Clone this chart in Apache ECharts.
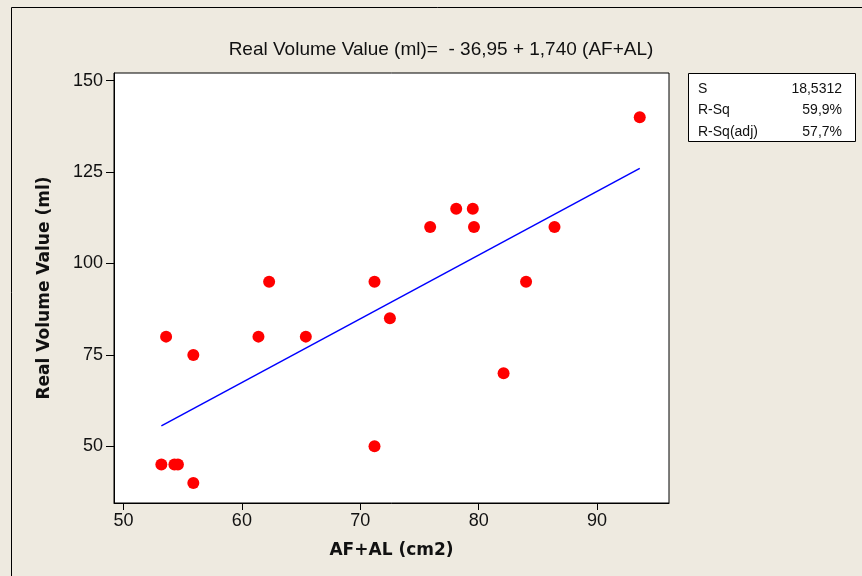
<!DOCTYPE html>
<html>
<head>
<meta charset="utf-8">
<script src="https://cdn.jsdelivr.net/npm/echarts@6/dist/echarts.min.js"></script>
<style>
  html, body { margin: 0; padding: 0; background: #EEEAE0; }
  #main { width: 862px; height: 576px; }
</style>
</head>
<body>
<div id="main"></div>
<script>
// AF+AL (cm2) vs Real Volume Value (ml)
var areaX = [93.6, 78.1, 79.5, 75.9, 79.6, 86.4, 62.3, 71.2, 84.0, 72.5,
             53.6, 61.4, 65.4, 55.9, 82.1, 71.2, 53.2, 54.3, 54.6, 55.9];
var volumeY = [140, 115, 115, 110, 110, 110, 95, 95, 95, 85,
               80, 80, 80, 75, 70, 50, 45, 45, 45, 40];
// fitted line ends
var fitX = [53.2, 93.6];
var fitY = [55.6, 126.0];
var xTicks = [50, 60, 70, 80, 90];
var yTicks = [50, 75, 100, 125, 150];
var statNames = ['S', 'R-Sq', 'R-Sq(adj)'];
var statValues = ['18,5312', '59,9%', '57,7%'];

var chartDom = document.getElementById('main');
var myChart = echarts.init(chartDom);
var font = 'Liberation Sans, Arial, sans-serif';

var statText = [];
statNames.forEach(function (n, i) {
  statText.push({
    type: 'text', left: 698, top: 82 + i * 21.5,
    style: { text: n, font: '14px ' + font, fill: '#111' }
  });
  statText.push({
    type: 'text', right: 20, top: 82 + i * 21.5,
    style: { text: statValues[i], font: '14px ' + font, fill: '#111', align: 'right' }
  });
});

var option = {
  backgroundColor: '#EEEAE0',
  animation: false,
  title: {
    text: 'Real Volume Value (ml)=  - 36,95 + 1,740 (AF+AL)',
    left: 436, top: 35, textAlign: 'center',
    textStyle: { fontFamily: font, fontSize: 19, fontWeight: 'normal', color: '#111' }
  },
  grid: { left: 114, top: 73, right: 193, bottom: 73, show: true,
    backgroundColor: '#fff', borderColor: '#000', borderWidth: 1 },
  xAxis: {
    type: 'value', min: 49.2, max: 96.07,
    name: 'AF+AL (cm2)', nameLocation: 'middle', nameGap: 39,
    nameTextStyle: { fontFamily: 'DejaVu Sans', fontWeight: 'bold', fontSize: 17, color: '#111' },
    axisLine: { show: true, lineStyle: { color: '#000' } },
    axisTick: { show: true, length: 7, customValues: xTicks, lineStyle: { color: '#000' } },
    axisLabel: { customValues: xTicks, fontFamily: font, fontSize: 18, color: '#111', margin: 9 },
    splitLine: { show: false }
  },
  yAxis: {
    type: 'value', min: 34.5, max: 152.1,
    name: 'Real Volume Value (ml)', nameLocation: 'middle', nameGap: 61, nameRotate: 90,
    nameTextStyle: { fontFamily: 'DejaVu Sans', fontWeight: 'bold', fontSize: 17, color: '#111' },
    axisLine: { show: true, lineStyle: { color: '#000' } },
    axisTick: { show: true, length: 8, customValues: yTicks, lineStyle: { color: '#000' } },
    axisLabel: { customValues: yTicks, fontFamily: font, fontSize: 18, color: '#111', margin: 11 },
    splitLine: { show: false }
  },
  graphic: [
    { type: 'rect', silent: true,
      shape: { x: 11.5, y: 7.5, width: 900, height: 600 },
      style: { fill: 'none', stroke: '#000', lineWidth: 1 } },
    { type: 'rect', left: 688, top: 73, silent: true,
      shape: { width: 167, height: 68 },
      style: { fill: '#fff', stroke: '#000', lineWidth: 1 } }
  ].concat(statText),
  series: [
    {
      name: 'Regression', type: 'line', symbol: 'none',
      lineStyle: { color: '#0000FF', width: 1.5 },
      data: fitX.map(function (x, i) { return [x, fitY[i]]; })
    },
    {
      name: 'Data', type: 'scatter', symbolSize: 12,
      itemStyle: { color: '#FF0000', opacity: 1 },
      data: areaX.map(function (x, i) { return [x, volumeY[i]]; })
    }
  ]
};
myChart.setOption(option);
</script>
</body>
</html>
